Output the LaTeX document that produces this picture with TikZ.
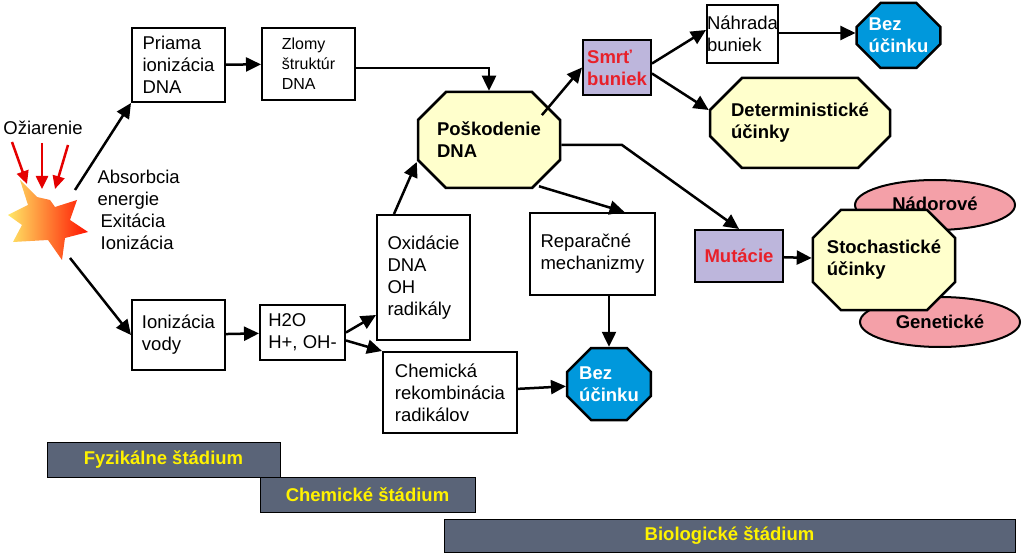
\documentclass[tikz,border=0pt]{standalone}
\usepackage{fontspec}
\setmainfont{Liberation Sans}
\usetikzlibrary{shapes.misc,shapes.geometric,arrows.meta,calc}
\definecolor{yel}{HTML}{FFFFCC}
\definecolor{lav}{HTML}{BDB6DC}
\definecolor{blu}{HTML}{0098DC}
\definecolor{pnk}{HTML}{F4A0A8}
\definecolor{bar}{HTML}{5A6478}
\definecolor{txtred}{HTML}{E8202A}
\begin{document}
\begin{tikzpicture}[x=1pt,y=-1pt,
 every node/.style={font=\fontsize{18.5}{22}\selectfont},
 box/.style={draw,line width=2pt,fill=white,align=left,inner sep=0pt},
 oct/.style={draw,line width=2.5pt,chamfered rectangle,chamfered rectangle xsep=14pt,chamfered rectangle ysep=14pt,align=left,inner sep=0pt,font=\fontsize{18.5}{22}\selectfont\bfseries},
 lav/.style={draw,line width=2pt,fill=lav,align=left,inner sep=0pt,font=\fontsize{18.5}{22}\selectfont\bfseries,text=txtred},
 ell/.style={draw,line width=2pt,ellipse,fill=pnk,minimum width=160pt,minimum height=50pt,font=\fontsize{18.5}{22}\selectfont\bfseries},
 stage/.style={draw,line width=1pt,fill=bar,text=yellow,font=\fontsize{18.5}{22}\selectfont\bfseries,inner sep=0pt},
 arr/.style={line width=2.5pt,-{Triangle[length=15pt,width=14pt]}},
 ln/.style={line width=2.5pt}]
\useasboundingbox (0,0) rectangle (1023,556);
% starburst
\shade[left color=yellow!70!orange!60,right color=red!85!orange,draw=none]
 (20,180)--(37,197)--(50,200)--(55,207)--(77,200)--(70,220)--(88,232)--(65,238)--(62,260)--(48,240)--(13,242)--(22,225)--(8,215)--(28,205)--cycle;
\node (oz) at (43,128) {Ožiarenie};
\coordinate (r1s) at (12,142);\coordinate (r1e) at (27,184);
\coordinate (r2s) at (42,143);\coordinate (r2e) at (42,189);
\coordinate (r3s) at (68,145);\coordinate (r3e) at (55,189);
\foreach \a/\b in {r1s/r1e,r2s/r2e,r3s/r3e}
 \draw[line width=2.5pt,red!90!black,-{Triangle[length=13pt,width=12pt]}] (\a)--(\b);
\node[align=left,anchor=north west,font=\fontsize{18.5}{22}\selectfont] (abs) at (94,167) {Absorbcia\\energie\\\,Exitácia\\\,Ionizácia};
\coordinate (st1) at (75,190);
\coordinate (st2) at (70,258);
% boxes
\node[box,minimum width=93pt,minimum height=74pt] (pr) at (178.5,65) {Priama\\ionizácia\\DNA};
\node[box,minimum width=93pt,minimum height=72pt,font=\fontsize{16}{20}\selectfont] (zl) at (308.5,64) {Zlomy\\štruktúr\\DNA};
\node[oct,fill=yel,minimum width=142pt,minimum height=96pt] (po) at (489,140) {Poškodenie\\DNA};
\node[lav,minimum width=68pt,minimum height=55pt] (sm) at (617,67.5) {Smrť\\buniek};
\node[box,minimum width=69pt,minimum height=58pt] (na) at (742.5,34) {Náhrada\\buniek};
\node[oct,fill=blu,text=white,minimum width=83pt,minimum height=65pt,chamfered rectangle xsep=12pt,chamfered rectangle ysep=12pt] (bz1) at (898.5,35.5) {Bez\\účinku};
\node[oct,fill=yel,minimum width=180pt,minimum height=90pt,chamfered rectangle xsep=18pt] (de) at (800,123) {Deterministické\\účinky};
\node[box,minimum width=93pt,minimum height=125pt] (ox) at (423.5,277.5) {Oxidácie\\DNA\\OH\\radikály};
\node[box,minimum width=125pt,minimum height=82pt] (re) at (592.5,254) {Reparačné\\mechanizmy};
\node[lav,minimum width=88pt,minimum height=52pt] (mu) at (739,256) {Mutácie};
\node[ell] (nad) at (935,205) {\raisebox{3pt}{Nádorové}};
\node[ell] (gen) at (940,322) {\raisebox{-3pt}{Genetické}};
\node[oct,fill=yel,minimum width=142pt,minimum height=100pt] (so) at (884,260) {Stochastické\\účinky};
\node[box,minimum width=93pt,minimum height=70pt] (io) at (178.5,335) {Ionizácia\\vody};
\node[box,minimum width=85pt,minimum height=55pt] (h2) at (302.5,332.5) {H2O\\H+, OH-};
\node[box,minimum width=134pt,minimum height=81pt] (ch) at (450,392.5) {Chemická\\rekombinácia\\radikálov};
\node[oct,fill=blu,text=white,minimum width=82pt,minimum height=72pt,chamfered rectangle xsep=12pt,chamfered rectangle ysep=12pt] (bz2) at (609,384) {Bez\\účinku};
% stages
\node[stage,minimum width=233pt,minimum height=35pt] (s1) at (163.5,459.5) {Fyzikálne štádium};
\node[stage,minimum width=215pt,minimum height=35pt] (s2) at (367.5,494.5) {Chemické štádium};
\node[stage,minimum width=571pt,minimum height=33pt] (s3) at (729.5,535.5) {Biologické štádium};
% arrows
\draw[arr] (st1)--(pr.south west);
\draw[arr] (st2)--(io.west);
\draw[arr] (pr)--(zl);
\draw[arr] (zl.east |- 0,68)-|(po.north);
\draw[arr] ($(ox.north west)+(18,0)$)--(po.west|-0,162);
\draw[arr] (io)--(h2);
\draw[arr] (h2.east)--(ox.west|-0,315);
\draw[arr] ($(h2.east)+(0,8)$)--(ch.north west);
\draw[arr] (ch)--(bz2);
\draw[arr] (re.south-|bz2)--(bz2.north);
\draw[arr] ($(po.south)+(50,-3)$)--($(re.north)+(32,0)$);
\draw[arr] ($(po.north east)+(-5,10)$)--(sm.west);
\coordinate (bend) at (622,145);
\draw[arr] (po.east|-0,145)--(bend)--(mu.north);
\draw[arr] ($(sm.east)+(0,-4)$)--(na.west|-0,30);
\draw[arr] ($(sm.east)+(0,6)$)--(de.west|-0,110);
\draw[arr] (na.east|-0,33)--(bz1.west|-0,33);
\draw[arr] (mu)--(so);
\end{tikzpicture}
\end{document}
